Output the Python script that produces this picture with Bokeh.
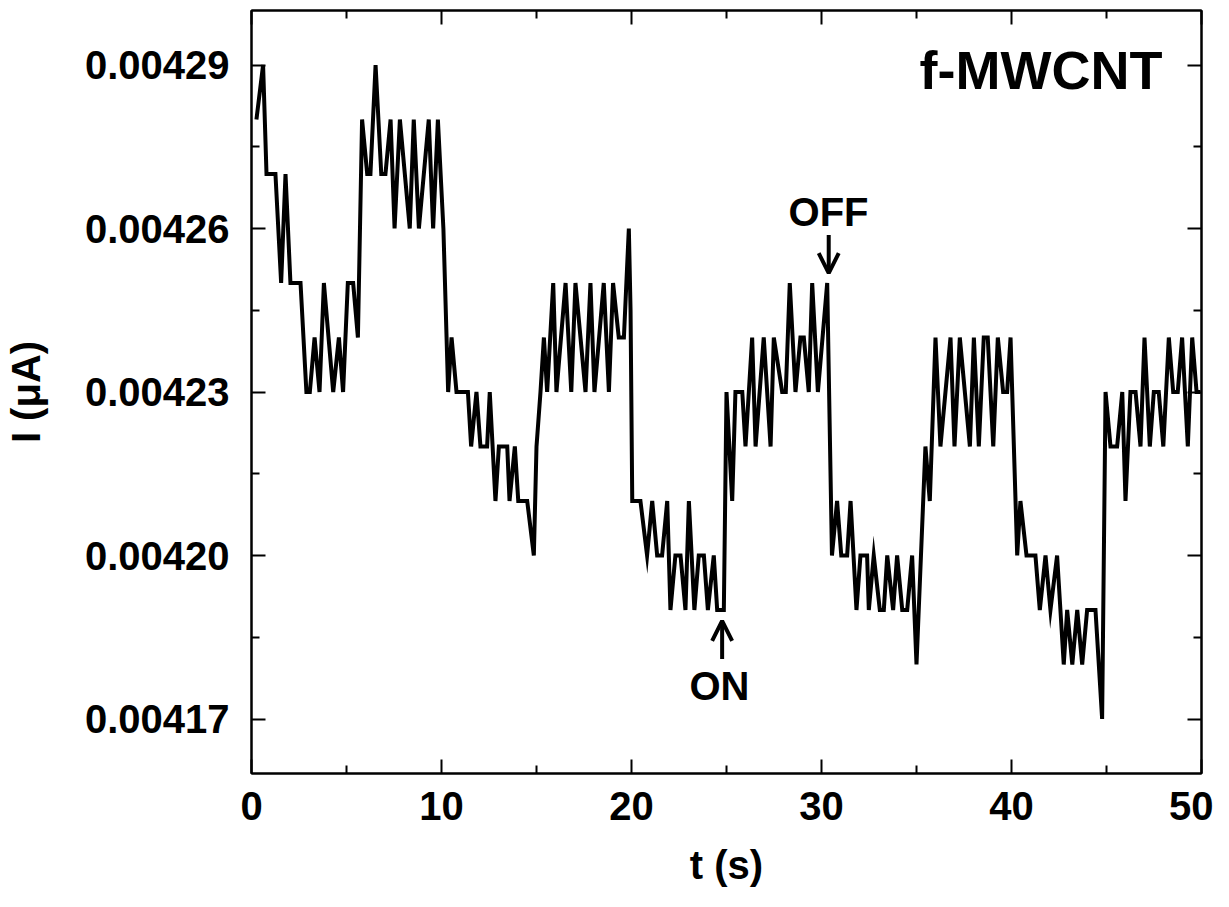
from bokeh.plotting import figure
from bokeh.models import (Range1d, LinearAxis, FixedTicker, PrintfTickFormatter,
                          Arrow, OpenHead, Label)
from bokeh.embed import file_html
from bokeh.resources import INLINE

# ---------------- data ----------------
time_s = [0.26, 0.61, 0.79, 1.26, 1.56, 1.79, 2.05, 2.58, 2.89, 3.07,
          3.32, 3.58, 3.81, 4.3, 4.6, 4.82, 5.07, 5.35, 5.6, 5.82,
          6.09, 6.26, 6.53, 6.83, 7.05, 7.32, 7.53, 7.81, 8.33, 8.54,
          8.81, 9.33, 9.56, 9.81,
          10.1, 10.35, 10.53, 10.79, 11.39, 11.56, 11.84, 12.05, 12.4, 12.54,
          12.84, 13.02, 13.46, 13.58, 13.86, 14.04, 14.51, 14.86, 15.0, 15.21,
          15.39, 15.56, 15.88, 16.05, 16.53, 16.83, 17.05,
          17.58, 17.84, 18.05, 18.54, 18.81, 19.03, 19.33, 19.6, 19.86, 19.95,
          20.04, 20.47, 20.82, 21.09, 21.35, 21.61, 21.88, 22.05, 22.31, 22.58,
          22.84, 23.02, 23.31, 23.54, 23.81, 24.02, 24.33, 24.51, 24.86,
          25.0, 25.3, 25.47, 25.83, 26.0, 26.35, 26.53, 26.96, 27.32, 27.49,
          27.93, 28.12, 28.33, 28.63, 28.89, 29.07, 29.33, 29.51, 29.81, 30.3,
          30.55, 30.82, 31.04, 31.35, 31.53, 31.84, 32.05, 32.4, 32.49, 32.75,
          33.07, 33.28, 33.46,
          33.77, 33.98, 34.25, 34.51, 34.77, 35.0, 35.47, 35.7, 36.0, 36.26,
          36.79, 37.0, 37.28, 37.81, 38.02, 38.28, 38.54, 38.75, 39.04, 39.28,
          39.56, 39.77, 39.95, 40.3, 40.47, 40.79, 41.26, 41.49, 41.79,
          42.05, 42.4, 42.75, 42.93, 43.2, 43.46, 43.72, 43.98, 44.42, 44.77,
          44.95, 45.21, 45.56, 45.83, 46.0, 46.26, 46.53, 46.79, 47.0, 47.28,
          47.49, 47.75, 47.99, 48.28, 48.51, 48.75, 48.98, 49.28, 49.51, 49.74,
          49.95]

current_uA = [0.00428, 0.00429, 0.00427, 0.00427, 0.00425, 0.00427, 0.00425, 0.00425, 0.00423, 0.00423,
              0.00424, 0.00423, 0.00425, 0.00423, 0.00424, 0.00423, 0.00425, 0.00425, 0.00424, 0.00428,
              0.00427, 0.00427, 0.00429, 0.00427, 0.00427, 0.00428, 0.00426, 0.00428, 0.00426, 0.00428,
              0.00426, 0.00428, 0.00426, 0.00428,
              0.00426, 0.00423, 0.00424, 0.00423, 0.00423, 0.00422, 0.00423, 0.00422, 0.00422, 0.00423,
              0.00421, 0.00422, 0.00422, 0.00421, 0.00422, 0.00421, 0.00421, 0.00420, 0.00422, 0.00423,
              0.00424, 0.00423, 0.00425, 0.00423, 0.00425, 0.00423, 0.00425,
              0.00423, 0.00425, 0.00423, 0.00425, 0.00423, 0.00425, 0.00424, 0.00424, 0.00426, 0.004245,
              0.00421, 0.00421, 0.00420, 0.00421, 0.00420, 0.00420, 0.00421, 0.00419, 0.00420, 0.00420,
              0.00419, 0.00421, 0.00419, 0.00420, 0.00420, 0.00419, 0.00420, 0.00419, 0.00419,
              0.00423, 0.00421, 0.00423, 0.00423, 0.00422, 0.00424, 0.00422, 0.00424, 0.00422, 0.00424,
              0.00423, 0.00423, 0.00425, 0.00423, 0.00424, 0.00424, 0.00423, 0.00425, 0.00423, 0.00425,
              0.00420, 0.00421, 0.00420, 0.00420, 0.00421, 0.00419, 0.00420, 0.00420, 0.00419, 0.00420,
              0.00419, 0.00419, 0.00420,
              0.00419, 0.00420, 0.00419, 0.00419, 0.00420, 0.00418, 0.00422, 0.00421, 0.00424, 0.00422,
              0.00424, 0.00422, 0.00424, 0.00422, 0.00424, 0.00422, 0.00424, 0.00424, 0.00422, 0.00424,
              0.00423, 0.00423, 0.00424, 0.00420, 0.00421, 0.00420, 0.00420, 0.00419, 0.00420,
              0.00419, 0.00420, 0.00418, 0.00419, 0.00418, 0.00419, 0.00418, 0.00419, 0.00419, 0.00417,
              0.00423, 0.00422, 0.00422, 0.00423, 0.00421, 0.00423, 0.00423, 0.00422, 0.00424, 0.00422,
              0.00423, 0.00423, 0.00422, 0.00424, 0.00423, 0.00423, 0.00424, 0.00422, 0.00424, 0.00423,
              0.00423]

x_major_ticks = [0, 10, 20, 30, 40, 50]
x_minor_ticks = [5, 15, 25, 35, 45]
y_major_ticks = [0.00417, 0.00420, 0.00423, 0.00426, 0.00429]
y_minor_ticks = [0.004155, 0.004185, 0.004215, 0.004245, 0.004275]

FONT = "Liberation Sans"

p = figure(width=1213, height=891, output_backend="svg", toolbar_location=None,
           x_range=Range1d(0, 50), y_range=Range1d(0.00416, 0.0043),
           min_border_left=251, min_border_right=12, min_border_top=10,
           min_border_bottom=118, background_fill_color="white",
           border_fill_color="white")
p.xgrid.visible = False
p.ygrid.visible = False
p.outline_line_color = "black"
p.outline_line_width = 2


def style_axis(ax, labels=True):
    ax.axis_line_width = 2
    ax.axis_line_color = "black"
    ax.major_tick_in = 14
    ax.major_tick_out = 0
    ax.minor_tick_in = 8
    ax.minor_tick_out = 0
    ax.major_tick_line_width = 2
    ax.minor_tick_line_width = 2
    ax.major_tick_line_color = "black"
    ax.minor_tick_line_color = "black"
    if labels:
        ax.major_label_text_font = FONT
        ax.major_label_text_font_style = "bold"
        ax.major_label_text_font_size = "40px"
        ax.major_label_text_color = "black"
        ax.axis_label_text_font = FONT
        ax.axis_label_text_font_style = "bold"
        ax.axis_label_text_font_size = "40px"
        ax.axis_label_text_color = "black"
    else:
        ax.major_label_text_color = None
        ax.major_label_text_font_size = "1px"
        ax.major_label_standoff = 0


xt = FixedTicker(ticks=x_major_ticks, minor_ticks=x_minor_ticks)
yt = FixedTicker(ticks=y_major_ticks, minor_ticks=y_minor_ticks)

xa = p.xaxis[0]
xa.ticker = xt
style_axis(xa)
xa.axis_label = "t (s)"
xa.major_label_standoff = 18
xa.axis_label_standoff = 20

ya = p.yaxis[0]
ya.ticker = yt
ya.formatter = PrintfTickFormatter(format="%.5f")
style_axis(ya)
ya.axis_label = "I (\u03bcA)"
ya.major_label_standoff = 22
ya.axis_label_standoff = 34

top = LinearAxis(ticker=FixedTicker(ticks=x_major_ticks, minor_ticks=x_minor_ticks))
style_axis(top, labels=False)
p.add_layout(top, "above")

right = LinearAxis(ticker=FixedTicker(ticks=y_major_ticks, minor_ticks=y_minor_ticks))
style_axis(right, labels=False)
p.add_layout(right, "right")

p.line(time_s, current_uA, line_color="black", line_width=4, line_join="miter")

# annotations
p.add_layout(Label(x=41.55, y=0.004289, text="f-MWCNT", text_align="center",
                   text_baseline="middle", text_font=FONT, text_font_style="bold",
                   text_font_size="54px", text_color="black"))
p.add_layout(Label(x=30.37, y=0.004263, text="OFF", text_align="center",
                   text_baseline="middle", text_font=FONT, text_font_style="bold",
                   text_font_size="40px", text_color="black"))
p.add_layout(Label(x=24.63, y=0.004176, text="ON", text_align="center",
                   text_baseline="middle", text_font=FONT, text_font_style="bold",
                   text_font_size="40px", text_color="black"))
p.add_layout(Arrow(end=OpenHead(size=20, line_width=4, line_color="black"),
                   x_start=30.38, y_start=0.0042588, x_end=30.38, y_end=0.0042518,
                   line_width=4, line_color="black"))
p.add_layout(Arrow(end=OpenHead(size=20, line_width=4, line_color="black"),
                   x_start=24.77, y_start=0.0041810, x_end=24.77, y_end=0.0041880,
                   line_width=4, line_color="black"))

open("out.html", "w").write(file_html(p, INLINE))
